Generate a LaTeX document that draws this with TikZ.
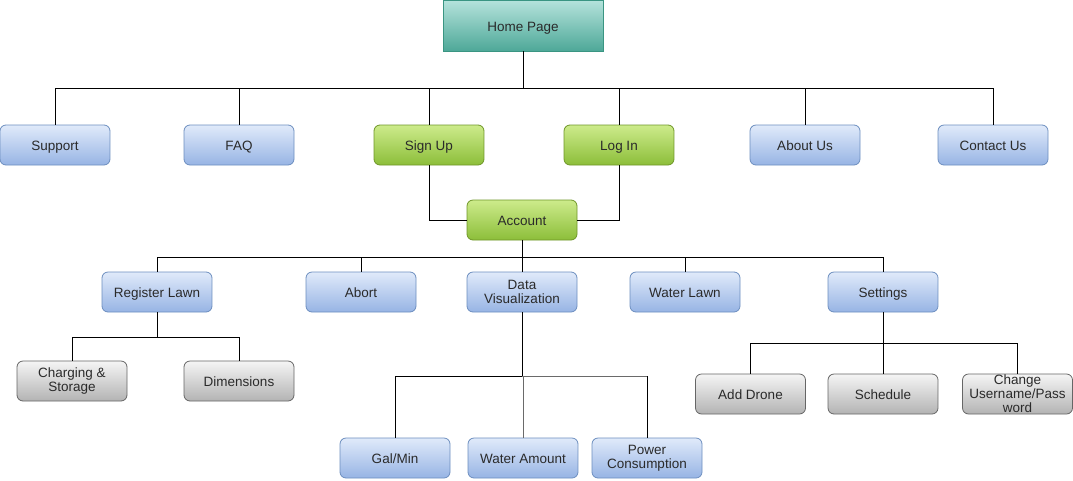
\documentclass[tikz,border=0pt]{standalone}
\usepackage{fontspec}
\setmainfont{Liberation Sans}
\definecolor{bluetop}{HTML}{E0EAFA}
\definecolor{bluebot}{HTML}{97B4E4}
\definecolor{blueln}{HTML}{6C8EBF}
\definecolor{greentop}{HTML}{CDEB8B}
\definecolor{greenbot}{HTML}{8CBE3A}
\definecolor{greenln}{HTML}{6F9628}
\definecolor{graytop}{HTML}{F5F5F5}
\definecolor{graybot}{HTML}{B3B3B3}
\definecolor{grayln}{HTML}{666666}
\definecolor{tealtop}{HTML}{B5E3DC}
\definecolor{tealbot}{HTML}{4EA898}
\definecolor{tealln}{HTML}{3A9582}
\definecolor{txt}{HTML}{2A2A2A}
\definecolor{midgray}{HTML}{6A6A6A}
\begin{document}
\begin{tikzpicture}[x=1pt,y=-1pt,
  box/.style={rectangle, rounded corners=6pt, minimum width=110pt, minimum height=40pt,
    inner sep=0pt, align=center, text=txt, font=\fontsize{13.5}{14}\selectfont, line width=0.8pt},
  one/.style={text height=11pt, text depth=0pt},
  bluebox/.style={box, draw=blueln, top color=bluetop, bottom color=bluebot},
  greenbox/.style={box, draw=greenln, top color=greentop, bottom color=greenbot},
  graybox/.style={box, draw=grayln, top color=graytop, bottom color=graybot},
  tealbox/.style={box, rounded corners=0pt, minimum width=160pt, minimum height=51pt, draw=tealln, top color=tealtop, bottom color=tealbot},
  conn/.style={draw=black, line width=0.8pt},
  gconn/.style={draw=midgray, line width=0.8pt}]
\useasboundingbox (0,0) rectangle (1073,480);

\node[tealbox, one] (home) at (523,25.5) {Home Page};

\node[bluebox, one] (support) at (55,145) {Support};
\node[bluebox, one] (faq) at (239,145) {FAQ};
\node[greenbox, one] (signup) at (429,145) {Sign Up};
\node[greenbox, one] (login) at (619,145) {Log In};
\node[bluebox, one] (about) at (805,145) {About Us};
\node[bluebox, one] (contact) at (993,145) {Contact Us};

\node[greenbox, one] (account) at (522,220) {Account};

\node[bluebox, one] (reg) at (157,292) {Register Lawn};
\node[bluebox, one] (abort) at (361,292) {Abort};
\node[bluebox] (dv) at (522,292) {Data\\Visualization};
\node[bluebox, one] (water) at (685,292) {Water Lawn};
\node[bluebox, one] (set) at (883,292) {Settings};

\node[graybox] (charge) at (72,381) {Charging \&\\Storage};
\node[graybox, one] (dim) at (239,381) {Dimensions};

\node[graybox, one] (drone) at (750.5,394) {Add Drone};
\node[graybox, one] (sched) at (883,394) {Schedule};
\node[graybox] (change) at (1017.5,394) {Change\\Username/Pass\\word};

\node[bluebox, one] (gal) at (395,458) {Gal/Min};
\node[bluebox, one] (amount) at (523,458) {Water Amount};
\node[bluebox] (power) at (647,458) {Power\\Consumption};

\coordinate (b1) at (0,88);
\coordinate (b2) at (0,257);
\coordinate (b3) at (0,337);
\coordinate (b4) at (0,343);
\coordinate (b5) at (0,376);

% Home page bus
\draw[conn] (home.south) -- (home.south |- b1);
\draw[conn] (support.north) -- (support.north |- b1) -- (contact.north |- b1) -- (contact.north);
\draw[conn] (faq.north) -- (faq.north |- b1);
\draw[conn] (signup.north) -- (signup.north |- b1);
\draw[conn] (login.north) -- (login.north |- b1);
\draw[conn] (about.north) -- (about.north |- b1);

% Sign up / Log in to Account
\draw[conn] (signup.south) |- (account.west);
\draw[conn] (login.south) |- (account.east);

% Account bus
\draw[conn] (account.south) -- (account.south |- b2);
\draw[conn] (reg.north) -- (reg.north |- b2) -- (set.north |- b2) -- (set.north);
\draw[conn] (abort.north) -- (abort.north |- b2);
\draw[conn] (dv.north) -- (dv.north |- b2);
\draw[conn] (water.north) -- (water.north |- b2);

% Register lawn bus
\draw[conn] (reg.south) -- (reg.south |- b3);
\draw[conn] (charge.north) -- (charge.north |- b3) -- (dim.north |- b3) -- (dim.north);

% Settings bus
\draw[conn] (set.south) -- (sched.north);
\draw[conn] (drone.north) -- (drone.north |- b4) -- (change.north |- b4) -- (change.north);

% Data visualization bus
\draw[conn] (dv.south) -- (dv.south |- b5);
\draw[conn] (gal.north) -- (gal.north |- b5) -- (dv.south |- b5);
\draw[gconn] (dv.south |- b5) -- (power.north |- b5);
\draw[conn] (power.north |- b5) -- (power.north);
\draw[gconn] (amount.north) -- (amount.north |- b5);
\end{tikzpicture}
\end{document}
